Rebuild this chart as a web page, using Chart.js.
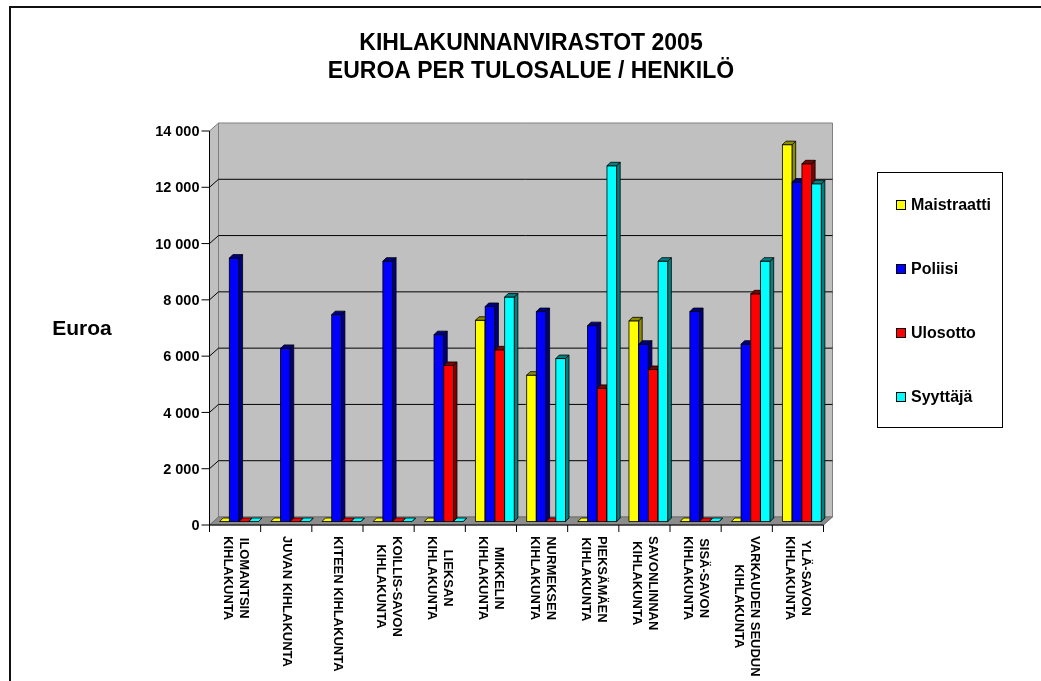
<!DOCTYPE html>
<html>
<head>
<meta charset="utf-8">
<script src="https://cdn.jsdelivr.net/npm/chart.js@4.4.1/dist/chart.umd.min.js"></script>
<style>
  html, body { margin: 0; padding: 0; background: #fff; overflow: hidden; }
  #wrap { position: relative; width: 1041px; height: 681px; }
  #frame { position: absolute; left: 9px; top: 6px; width: 1100px; height: 800px;
           border-left: 2px solid #111; border-top: 2px solid #111; pointer-events: none; }
  canvas { position: absolute; left: 0; top: 0; }
</style>
</head>
<body>
<div id="wrap">
  <canvas id="chart" width="1041" height="681"></canvas>
  <div id="frame"></div>
</div>
<script>
const TITLE = ['KIHLAKUNNANVIRASTOT 2005', 'EUROA PER TULOSALUE / HENKILÖ'];
const Y_TITLE = 'Euroa';

const CATEGORIES = [
  ['ILOMANTSIN', 'KIHLAKUNTA'],
  ['JUVAN KIHLAKUNTA'],
  ['KITEEN KIHLAKUNTA'],
  ['KOILLIS-SAVON', 'KIHLAKUNTA'],
  ['LIEKSAN', 'KIHLAKUNTA'],
  ['MIKKELIN', 'KIHLAKUNTA'],
  ['NURMEKSEN', 'KIHLAKUNTA'],
  ['PIEKSÄMÄEN', 'KIHLAKUNTA'],
  ['SAVONLINNAN', 'KIHLAKUNTA'],
  ['SISÄ-SAVON', 'KIHLAKUNTA'],
  ['VARKAUDEN SEUDUN', 'KIHLAKUNTA'],
  ['YLÄ-SAVON', 'KIHLAKUNTA']
];

const Y_TICKS = [0, 2000, 4000, 6000, 8000, 10000, 12000, 14000];

const SERIES = ['Maistraatti', 'Poliisi', 'Ulosotto', 'Syyttäjä'];
const maistraatti = [0, 0, 0, 0, 0, 7150, 5200, 0, 7130, 0, 0, 13390];
const poliisi     = [9360, 6150, 7350, 9250, 6640, 7640, 7460, 6960, 6300, 7460, 6300, 12060];
const ulosotto    = [0, 0, 0, 0, 5545, 6100, 0, 4730, 5400, 0, 8090, 12710];
const syyttaja    = [0, 0, 0, 0, 0, 7975, 5790, 12640, 9250, 0, 9250, 12000];

const COLORS = ['#ffff00', '#0000ff', '#ff0000', '#00ffff'];
const SHADES = ['#8c8c00', '#000080', '#800000', '#008080'];

const FONT = '"Liberation Sans", Arial, sans-serif';
const FRONT = { dx: -4, dy: 3.5 };  // front edge of the floor, from the bar plane
const BACK = { dx: 9, dy: -8 };     // back wall, from the front edge
const DEPTH = 3.5;                   // bar depth

function fmt(n) { return String(n).replace(/\B(?=(\d{3})+(?!\d))/g, ' '); }

function box(chart) {
  const a = chart.chartArea;
  const fl = a.left + FRONT.dx, fr = a.right + FRONT.dx;
  const ft = a.top + FRONT.dy, fb = a.bottom + FRONT.dy;
  return { fl, fr, ft, fb, bl: fl + BACK.dx, br: fr + BACK.dx, bt: ft + BACK.dy, bb: fb + BACK.dy };
}

function poly(ctx, pts, fill, stroke, lw) {
  ctx.beginPath();
  pts.forEach(([px, py], i) => i ? ctx.lineTo(px, py) : ctx.moveTo(px, py));
  ctx.closePath();
  if (fill) { ctx.fillStyle = fill; ctx.fill(); }
  if (stroke) { ctx.strokeStyle = stroke; ctx.lineWidth = lw || 1; ctx.stroke(); }
}

const frame3d = {
  id: 'frame3d',
  beforeDatasetsDraw(chart) {
    const { ctx, scales: { x, y } } = chart;
    const b = box(chart);
    ctx.save();
    // walls and floor
    poly(ctx, [[b.bl, b.bt], [b.br, b.bt], [b.br, b.bb], [b.bl, b.bb]], '#c0c0c0', '#808080');
    poly(ctx, [[b.fl, b.ft], [b.bl, b.bt], [b.bl, b.bb], [b.fl, b.fb]], '#c0c0c0', '#808080');
    poly(ctx, [[b.fl, b.fb], [b.bl, b.bb], [b.br, b.bb], [b.fr, b.fb]], '#8c8c8c', '#707070');

    // grid lines
    ctx.strokeStyle = '#000';
    ctx.lineWidth = 1;
    Y_TICKS.slice(1, -1).forEach(v => {
      const yf = y.getPixelForValue(v) + FRONT.dy;
      ctx.beginPath();
      ctx.moveTo(b.fl, yf);
      ctx.lineTo(b.bl, yf + BACK.dy);
      ctx.lineTo(b.br, yf + BACK.dy);
      ctx.stroke();
    });

    // value axis
    ctx.beginPath();
    ctx.moveTo(b.fl, b.ft); ctx.lineTo(b.fl, b.fb);
    ctx.lineTo(b.fr, b.fb);
    ctx.stroke();
    ctx.font = 'bold 14.5px ' + FONT;
    ctx.fillStyle = '#000';
    ctx.textAlign = 'right';
    ctx.textBaseline = 'alphabetic';
    Y_TICKS.forEach(v => {
      const yf = y.getPixelForValue(v) + FRONT.dy;
      ctx.beginPath();
      ctx.moveTo(b.fl - 8, yf); ctx.lineTo(b.fl, yf);
      ctx.stroke();
      ctx.fillText(fmt(v), b.fl - 10, yf + 5.2);
    });

    // category axis
    const n = CATEGORIES.length;
    const step = (b.fr - b.fl) / n;
    for (let i = 0; i <= n; i++) {
      ctx.beginPath();
      ctx.moveTo(b.fl + i * step, b.fb);
      ctx.lineTo(b.fl + i * step, b.fb + 7);
      ctx.stroke();
    }
    ctx.font = 'bold 13px ' + FONT;
    ctx.textAlign = 'center';
    ctx.textBaseline = 'middle';
    CATEGORIES.forEach((lines, i) => {
      const cx = x.getPixelForValue(i) + FRONT.dx;
      const w = Math.max(...lines.map(l => ctx.measureText(l).width));
      ctx.save();
      ctx.translate(cx, b.fb + 11);
      ctx.rotate(Math.PI / 2);
      lines.forEach((l, j) => ctx.fillText(l, w / 2, (j - (lines.length - 1) / 2) * 16));
      ctx.restore();
    });
    ctx.restore();
  },

  // redraw the bars left to right so every side face sits behind the next bar
  afterDatasetsDraw(chart) {
    const { ctx } = chart;
    ctx.save();
    chart.data.datasets.forEach((ds, i) => {
      const meta = chart.getDatasetMeta(i);
      meta.data.forEach(bar => {
        const { x, y, base, width } = bar.getProps(['x', 'y', 'base', 'width'], true);
        const l = x - width / 2, r = x + width / 2;
        if (base - y > 0.5) poly(ctx, [[l, y], [r, y], [r, base], [l, base]], COLORS[i], '#000', 0.8);
        poly(ctx, [[r, y], [r + DEPTH, y - DEPTH], [r + DEPTH, base - DEPTH], [r, base]], SHADES[i], '#000', 0.8);
        poly(ctx, [[l, y], [l + DEPTH, y - DEPTH], [r + DEPTH, y - DEPTH], [r, y]],
             base - y > 0.5 ? SHADES[i] : COLORS[i], '#000', 0.8);
      });
    });
    ctx.restore();
  },

  afterDraw(chart) {
    const { ctx } = chart;
    ctx.save();
    ctx.fillStyle = '#000';
    ctx.textBaseline = 'alphabetic';
    ctx.textAlign = 'center';
    ctx.font = 'bold 23px ' + FONT;
    ctx.fillText(TITLE[0], 531, 49.5);
    ctx.fillText(TITLE[1], 531, 77.5);

    ctx.font = 'bold 21px ' + FONT;
    ctx.fillText(Y_TITLE, 82, 335);

    // legend
    ctx.strokeStyle = '#000';
    ctx.lineWidth = 1;
    ctx.strokeRect(877.5, 172.5, 125, 255);
    ctx.font = 'bold 16px ' + FONT;
    ctx.textAlign = 'left';
    SERIES.forEach((name, i) => {
      const yc = 205 + i * 64;
      ctx.fillStyle = COLORS[i];
      ctx.fillRect(896, yc - 4.5, 9, 9);
      ctx.strokeRect(896.5, yc - 4.5, 9, 9);
      ctx.fillStyle = '#000';
      ctx.fillText(name, 911, yc + 5.4);
    });
    ctx.restore();
  }
};

const values = [maistraatti, poliisi, ulosotto, syyttaja];

new Chart(document.getElementById('chart'), {
  type: 'bar',
  data: {
    labels: CATEGORIES.map(c => c.join(' ')),
    datasets: SERIES.map((name, i) => ({
      label: name,
      data: values[i],
      backgroundColor: COLORS[i],
      borderColor: '#000',
      borderWidth: 0.8,
      borderSkipped: false,
      categoryPercentage: 0.76,
      barPercentage: 1
    }))
  },
  options: {
    responsive: false,
    animation: false,
    layout: { padding: { left: 213.5, right: 213.5, top: 127.5, bottom: 159.5 } },
    plugins: { legend: { display: false }, title: { display: false }, tooltip: { enabled: false } },
    scales: {
      x: { display: false },
      y: { display: false, min: 0, max: 14000 }
    }
  },
  plugins: [frame3d]
});
</script>
</body>
</html>
